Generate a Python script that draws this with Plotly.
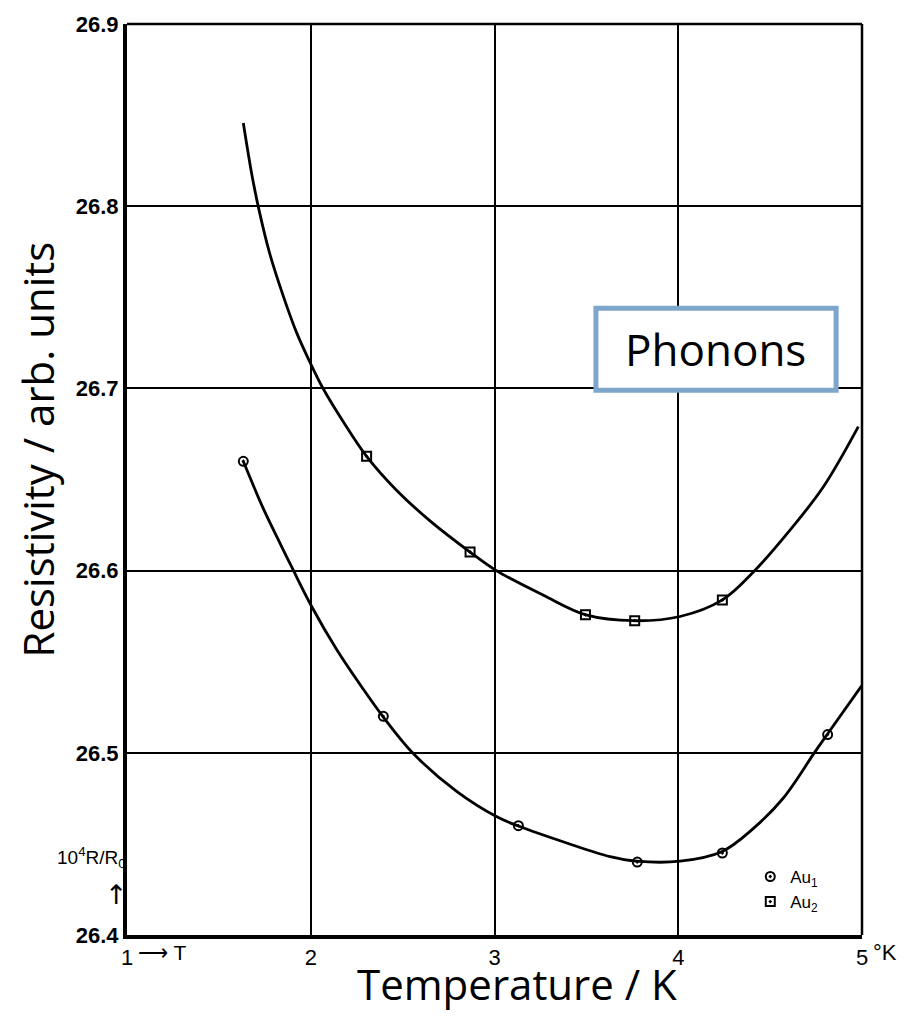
import plotly.graph_objects as go

# Marker data
au1_T = [1.633, 2.395, 3.13, 3.777, 4.24, 4.813]
au1_R = [26.660, 26.520, 26.460, 26.440, 26.445, 26.510]
au2_T = [2.304, 2.867, 3.495, 3.763, 4.24]
au2_R = [26.6627, 26.6102, 26.5757, 26.5725, 26.5839]

# Drawn curves
curve2_T = [1.633, 1.679, 1.715, 1.778, 1.851, 1.923, 1.996, 2.068, 2.177, 2.304, 2.468, 2.649,
            2.867, 3.010, 3.266, 3.498, 3.761, 4.010, 4.240, 4.418, 4.608, 4.790, 4.980]
curve2_R = [26.8457, 26.8176, 26.7995, 26.7735, 26.7505, 26.7306, 26.7143, 26.6998, 26.6817, 26.6627,
            26.6440, 26.6273, 26.6102, 26.6000, 26.5865, 26.5757, 26.5725, 26.5748, 26.5839,
            26.6002, 26.6222, 26.6460, 26.6790]
curve1_T = [1.633, 1.742, 1.833, 1.905, 2.005, 2.141, 2.286, 2.395, 2.558, 2.794, 3.010, 3.130,
            3.393, 3.629, 3.774, 4.010, 4.236, 4.409, 4.572, 4.744, 4.817, 4.998]
curve1_R = [26.6600, 26.6340, 26.6150, 26.6002, 26.5803, 26.5567, 26.5349, 26.5196, 26.4996, 26.4788,
            26.4650, 26.4598, 26.4505, 26.4430, 26.4405, 26.4405, 26.4457, 26.4585, 26.4752, 26.5005,
            26.5110, 26.5368]

x_ticks = [1, 2, 3, 4, 5]
x_ticklabels = ["1", "2", "3", "4", "5"]
y_ticks = [26.4, 26.5, 26.6, 26.7, 26.8, 26.9]
y_ticklabels = ["26.4", "26.5", "26.6", "26.7", "26.8", "26.9"]

fig = go.Figure()
for cx, cy in [(curve2_T, curve2_R), (curve1_T, curve1_R)]:
    fig.add_trace(go.Scatter(x=cx, y=cy, mode="lines",
                             line=dict(color="black", width=2.8, shape="spline", smoothing=1.0),
                             showlegend=False, hoverinfo="skip"))
fig.add_trace(go.Scatter(x=au1_T, y=au1_R, mode="markers", name="Au<sub>1</sub>",
                         marker=dict(symbol="circle-open-dot", size=9, color="black", line=dict(width=2, color="black"))))
fig.add_trace(go.Scatter(x=au2_T, y=au2_R, mode="markers", name="Au<sub>2</sub>",
                         marker=dict(symbol="square-open-dot", size=9, color="black", line=dict(width=2, color="black"))))

# Phonons box
fig.add_shape(type="rect", x0=3.552, x1=4.859, y0=26.699, y1=26.744, xref="x", yref="y",
              fillcolor="white", line=dict(color="#7EA6CC", width=5), layer="above")
fig.add_annotation(x=4.205, y=26.7215, xref="x", yref="y", text="Phonons", showarrow=False,
                   font=dict(family="Open Sans", size=44, color="black"))

# frame top/right
fig.add_shape(type="line", x0=0, x1=1, y0=1, y1=1, xref="paper", yref="paper", line=dict(color="black", width=2.5))
fig.add_shape(type="line", x0=1, x1=1, y0=0, y1=1, xref="paper", yref="paper", line=dict(color="black", width=2.5))

# axis titles
fig.add_annotation(x=0.531, y=0, xref="paper", yref="paper", xanchor="center", yanchor="top", yshift=-18,
                   text="Temperature / K", showarrow=False, font=dict(family="Open Sans", size=42, color="black"))
fig.add_annotation(x=0, y=0.533, xref="paper", yref="paper", xanchor="center", yanchor="middle", xshift=-90,
                   text="Resistivity / arb. units", textangle=-90, showarrow=False,
                   font=dict(family="Open Sans", size=42, color="black"))

# extra labels
fig.add_annotation(x=0.0, y=0, xref="paper", yref="paper", xanchor="left", yanchor="top", yshift=-4, xshift=9,
                   text="⟶ T", showarrow=False, font=dict(family="Liberation Sans", size=21, color="black"))
fig.add_annotation(x=1.0, y=0, xref="paper", yref="paper", xanchor="left", yanchor="top", yshift=-3, xshift=9,
                   text="°K", showarrow=False, font=dict(family="Liberation Sans", size=22, color="black"))
fig.add_annotation(x=0.0, y=26.4425, xref="paper", yref="y", xanchor="right", yanchor="middle", xshift=1,
                   text="10<sup>4</sup>R/R<sub>0</sub>", showarrow=False, font=dict(family="Liberation Sans", size=19, color="black"))
fig.add_annotation(x=0.0, y=26.4225, xref="paper", yref="y", xanchor="right", yanchor="middle", xshift=3,
                   text="↑", showarrow=False, font=dict(family="DejaVu Sans", size=27, color="black"))

fig.update_layout(
    width=908, height=1017,
    margin=dict(l=127, r=46, t=15, b=82),
    paper_bgcolor="white", plot_bgcolor="white",
    showlegend=True,
    legend=dict(x=0.848, y=0.05, xanchor="left", yanchor="middle", bgcolor="rgba(0,0,0,0)",
                font=dict(family="Liberation Sans", size=17, color="black"), itemwidth=30, tracegroupgap=0),
    xaxis=dict(range=[1, 5], tickmode="array", tickvals=x_ticks, ticktext=x_ticklabels,
               showgrid=True, gridcolor="black", gridwidth=1.8, zeroline=False,
               showline=True, linecolor="black", linewidth=4, ticks="",
               tickfont=dict(family="Liberation Sans", size=22, color="black")),
    yaxis=dict(range=[26.4, 26.9], tickmode="array", tickvals=y_ticks, ticktext=y_ticklabels,
               showgrid=True, gridcolor="black", gridwidth=1.8, zeroline=False,
               showline=True, linecolor="black", linewidth=4, ticks="",
               tickfont=dict(family="Liberation Sans", size=22, color="black", weight="bold")),
)

fig.write_html("out.html")
